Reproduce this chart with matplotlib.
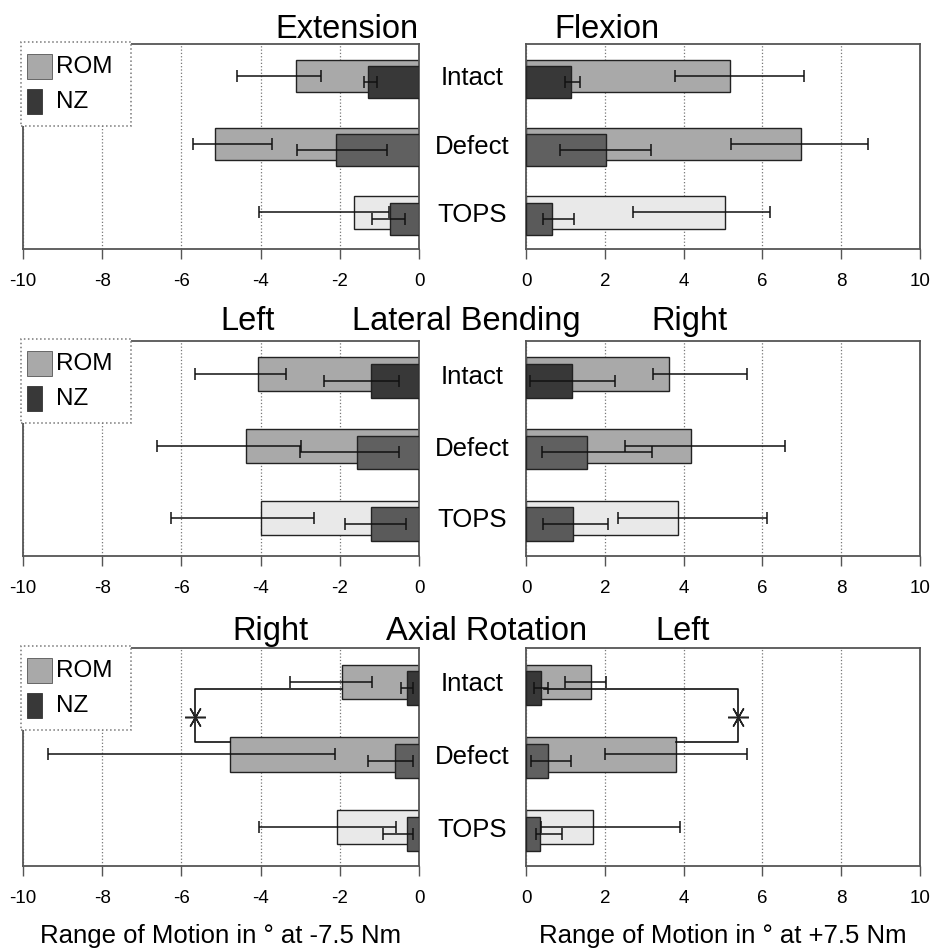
import matplotlib
matplotlib.use('Agg')
import matplotlib.pyplot as plt
from matplotlib.patches import Rectangle
import matplotlib.transforms as mtransforms

plt.rcParams['font.family'] = ['Liberation Sans', 'DejaVu Sans']
plt.rcParams['axes.unicode_minus'] = False

W, H = 946, 948

categories = ['Intact', 'Defect', 'TOPS']

# ---- Extension (-7.5 Nm) / Flexion (+7.5 Nm) ----
ext_rom = [3.10, 5.15, 1.65]
ext_rom_err = [(2.48, 4.60), (3.70, 5.71), (0.75, 4.03)]
ext_nz = [1.30, 2.10, 0.72]
ext_nz_err = [(1.05, 1.38), (0.81, 3.09), (0.36, 1.18)]

flex_rom = [5.19, 6.97, 5.04]
flex_rom_err = [(3.77, 7.05), (5.21, 8.69), (2.71, 6.19)]
flex_nz = [1.15, 2.02, 0.66]
flex_nz_err = [(1.00, 1.36), (0.86, 3.18), (0.42, 1.23)]

# ---- Lateral bending left / right ----
latl_rom = [4.07, 4.37, 3.98]
latl_rom_err = [(3.36, 5.65), (2.99, 6.62), (2.66, 6.26)]
latl_nz = [1.20, 1.56, 1.20]
latl_nz_err = [(0.50, 2.41), (0.51, 3.01), (0.32, 1.88)]

latr_rom = [3.64, 4.20, 3.87]
latr_rom_err = [(3.23, 5.60), (2.51, 6.57), (2.34, 6.11)]
latr_nz = [1.18, 1.54, 1.20]
latr_nz_err = [(0.10, 2.26), (0.40, 3.21), (0.44, 2.09)]

# ---- Axial rotation right / left ----
axr_rom = [1.94, 4.77, 2.06]
axr_rom_err = [(1.18, 3.26), (2.11, 9.37), (0.59, 4.04)]
axr_nz = [0.30, 0.61, 0.30]
axr_nz_err = [(0.15, 0.45), (0.15, 1.29), (0.15, 0.91)]

axl_rom = [1.64, 3.80, 1.69]
axl_rom_err = [(1.00, 2.03), (2.00, 5.60), (0.38, 3.90)]
axl_nz = [0.37, 0.57, 0.36]
axl_nz_err = [(0.20, 0.55), (0.13, 1.15), (0.25, 0.91)]

# significance bracket (Intact vs Defect ROM, axial rotation)
sig_x_right = 5.66   # on the -7.5 Nm side
sig_x_left = 5.39    # on the +7.5 Nm side

xticks_neg = [-10, -8, -6, -4, -2, 0]
xticks_pos = [0, 2, 4, 6, 8, 10]

rom_colors = ['#a9a9a9', '#a9a9a9', '#e9e9e9']
nz_colors = ['#383838', '#606060', '#5a5a5a']

fig = plt.figure(figsize=(W / 100, H / 100), dpi=100)


def fx(x):
    return x / W


def fy(y):
    return 1 - y / H


def add_axes_px(x0, y0, x1, y1):
    return fig.add_axes([fx(x0), fy(y1), (x1 - x0) / W, (y1 - y0) / H])


def draw_panel(ax, rom, rom_err, nz, nz_err, sign):
    ypos = list(range(len(categories)))
    rom_y = [i - 0.035 for i in ypos]
    nz_y = [i + 0.055 for i in ypos]
    rom_v = [sign * v for v in rom]
    nz_v = [sign * v for v in nz]
    ax.barh(rom_y, rom_v, height=0.47, color=rom_colors, edgecolor='#222222',
            linewidth=1.0, zorder=2)
    ax.barh(nz_y, nz_v, height=0.47, color=nz_colors, edgecolor='#222222',
            linewidth=1.0, zorder=3)
    for yy, m, (lo, hi) in [(rom_y[i], rom[i], rom_err[i]) for i in ypos] + \
                           [(nz_y[i], nz[i], nz_err[i]) for i in ypos]:
        if sign < 0:
            xe = [[hi - m], [m - lo]]
        else:
            xe = [[m - lo], [hi - m]]
        ax.errorbar([sign * m], [yy], xerr=xe, fmt='none', ecolor='#111111',
                    elinewidth=1.1, capsize=4, capthick=1.1, zorder=4)
    if sign < 0:
        ax.set_xlim(-10, 0)
        ax.set_xticks(xticks_neg)
        ax.set_xticklabels([str(t) for t in xticks_neg])
    else:
        ax.set_xlim(0, 10)
        ax.set_xticks(xticks_pos)
        ax.set_xticklabels([str(t) for t in xticks_pos])
    ax.set_ylim(2.5, -0.5)
    ax.set_yticks([])
    ax.grid(axis='x', linestyle=':', color='#777777', linewidth=0.9)
    ax.set_axisbelow(True)
    for s in ax.spines.values():
        s.set_color('#555555')
        s.set_linewidth(1.3)
    ax.tick_params(axis='x', direction='out', length=7, width=1.0,
                   color='#555555', pad=10, labelsize=13.5)


rows = [(44, 249), (341, 556), (648, 866)]
LX = (23, 419)
RX = (526, 920)

panels = [
    (ext_rom, ext_rom_err, ext_nz, ext_nz_err, flex_rom, flex_rom_err, flex_nz, flex_nz_err),
    (latl_rom, latl_rom_err, latl_nz, latl_nz_err, latr_rom, latr_rom_err, latr_nz, latr_nz_err),
    (axr_rom, axr_rom_err, axr_nz, axr_nz_err, axl_rom, axl_rom_err, axl_nz, axl_nz_err),
]

left_axes = []
right_axes = []
for (y0, y1), p in zip(rows, panels):
    axL = add_axes_px(LX[0], y0, LX[1], y1)
    axR = add_axes_px(RX[0], y0, RX[1], y1)
    draw_panel(axL, p[0], p[1], p[2], p[3], -1)
    draw_panel(axR, p[4], p[5], p[6], p[7], +1)
    left_axes.append(axL)
    right_axes.append(axR)
    # category labels between the panels
    tr = mtransforms.blended_transform_factory(fig.transFigure, axL.transData)
    for i, c in enumerate(categories):
        axL.text(fx(472), i, c, transform=tr, ha='center', va='center',
                 fontsize=18.5, clip_on=False)

# significance brackets in axial rotation panels
axL = left_axes[2]
y_top, y_bot = 0.065, 0.79
axL.plot([-axr_rom[0], -sig_x_right, -sig_x_right, -axr_rom[1]],
         [y_top, y_top, y_bot, y_bot], color='#111111', lw=1.2, zorder=5)
axL.plot([-sig_x_right], [0.45], marker=(6, 2, 90), markersize=15,
         color='#222222', mew=1.1, zorder=6, linestyle='none')
axR = right_axes[2]
axR.plot([0.45, sig_x_left, sig_x_left, axl_rom[1]],
         [y_top, y_top, y_bot, y_bot], color='#111111', lw=1.2, zorder=5)
axR.plot([sig_x_left], [0.45], marker=(6, 2, 90), markersize=15,
         color='#222222', mew=1.1, zorder=6, linestyle='none')

# titles
titles = [
    ('Extension', 347, 38), ('Flexion', 607, 38),
    ('Left', 248, 330), ('Lateral Bending', 466, 330), ('Right', 689, 330),
    ('Right', 270, 640), ('Axial Rotation', 487, 640), ('Left', 683, 640),
]
for t, x, y in titles:
    fig.text(fx(x), fy(y), t, ha='center', va='baseline', fontsize=23.5)

# axis labels
fig.text(fx(221), fy(943), 'Range of Motion in \u00b0 at -7.5 Nm', ha='center',
         va='baseline', fontsize=18.5)
fig.text(fx(723), fy(943), 'Range of Motion in \u00b0 at +7.5 Nm', ha='center',
         va='baseline', fontsize=18.5)

# legends (boxes at the top-left of each left panel)
for (y0, y1) in rows:
    bx, by = LX[0] - 2, y0 - 2
    box = Rectangle((fx(bx), fy(by + 84)), 110 / W, 84 / H, transform=fig.transFigure,
                    facecolor='white', edgecolor='#777777', linewidth=1.1,
                    linestyle=':', zorder=10)
    fig.add_artist(box)
    rom_patch = Rectangle((fx(bx + 6), fy(by + 37)), 25 / W, 25 / H,
                          transform=fig.transFigure, facecolor=rom_colors[0],
                          edgecolor='#555555', linewidth=0.6, zorder=11)
    nz_patch = Rectangle((fx(bx + 6), fy(by + 72)), 15 / W, 25 / H,
                         transform=fig.transFigure, facecolor=nz_colors[0],
                         edgecolor='#333333', linewidth=0.6, zorder=11)
    fig.add_artist(rom_patch)
    fig.add_artist(nz_patch)
    fig.text(fx(bx + 35), fy(by + 25), 'ROM', ha='left', va='center',
             fontsize=17.5, zorder=12)
    fig.text(fx(bx + 35), fy(by + 60), 'NZ', ha='left', va='center',
             fontsize=17.5, zorder=12)

fig.savefig('out.png', dpi=100, facecolor='white')
